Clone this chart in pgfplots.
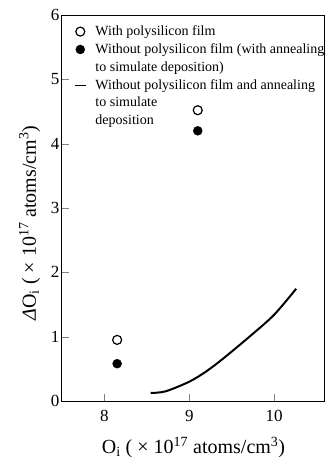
\documentclass[border=0pt]{standalone}
\usepackage{fontspec}
\setmainfont{Liberation Serif}
\usepackage{pgfplots}
\pgfplotsset{compat=1.18}
\begin{document}
\begin{tikzpicture}
\useasboundingbox (-62pt,-58pt) rectangle (269pt,401pt);
\begin{axis}[
  at={(0pt,0pt)}, anchor=south west,
  scale only axis, width=263pt, height=386pt,
  xmin=7.5, xmax=10.6, ymin=0, ymax=6,
  xtick={8,9,10}, ytick={0,1,2,3,4,5,6},
  tick align=inside, major tick length=7pt,
  xtick pos=bottom, ytick pos=left,
  /pgf/number format/assume math mode=true,
  tick label style={font=\fontsize{17}{19}\selectfont},
  xticklabel style={yshift=-6pt},
  yticklabel style={xshift=1pt},
  xlabel={O\textsubscript{i} ( × 10\textsuperscript{17} atoms/cm\textsuperscript{3})},
  ylabel={{\itshape Δ}O\textsubscript{i} ( × 10\textsuperscript{17} atoms/cm\textsuperscript{3})},
  label style={font=\fontsize{20}{22}\selectfont},
  xlabel style={yshift=-8pt},
  ylabel style={yshift=4pt, xshift=-15pt},
  axis line style={line width=1pt},
  legend style={draw=none, fill=none, at={(0.025,0.98)}, anchor=north west,
    nodes={align=left, font=\fontsize{14}{16}\selectfont, inner sep=1pt},
    row sep=4.5pt, /tikz/every odd column/.append style={column sep=8pt}},
  legend cell align=left,
]
\addlegendimage{only marks, mark=*, mark size=4.5pt, mark options={fill=white, draw=black, line width=1.2pt}}
\addlegendentry{With polysilicon film}
\addlegendimage{only marks, mark=*, mark size=4.5pt, mark options={fill=black, draw=black}}
\addlegendentry{Without polysilicon film (with annealing}
\addlegendimage{empty legend}
\addlegendentry{to simulate deposition)}
\addlegendimage{black, line width=1pt, legend image code/.code={\draw[line width=1pt] (0.1cm,0cm) -- (0.5cm,0cm);}}
\addlegendentry{Without polysilicon film and annealing}
\addlegendimage{empty legend}
\addlegendentry{to simulate}
\addlegendimage{empty legend}
\addlegendentry{deposition}
\addplot[forget plot, only marks, mark=*, mark size=4.5pt, mark options={fill=white, draw=black, line width=1.2pt}]
  coordinates {(8.15,0.95) (9.1,4.52)};
\addplot[forget plot, only marks, mark=*, mark size=4.5pt, mark options={fill=black, draw=black}]
  coordinates {(8.15,0.58) (9.1,4.2)};
\addplot[forget plot, black, line width=2pt, smooth]
  coordinates {(8.545,0.125) (8.72,0.15) (9.0,0.30) (9.2,0.46) (9.4,0.66) (9.71,1.0) (10.0,1.34) (10.26,1.745)};
\end{axis}
\end{tikzpicture}
\end{document}
